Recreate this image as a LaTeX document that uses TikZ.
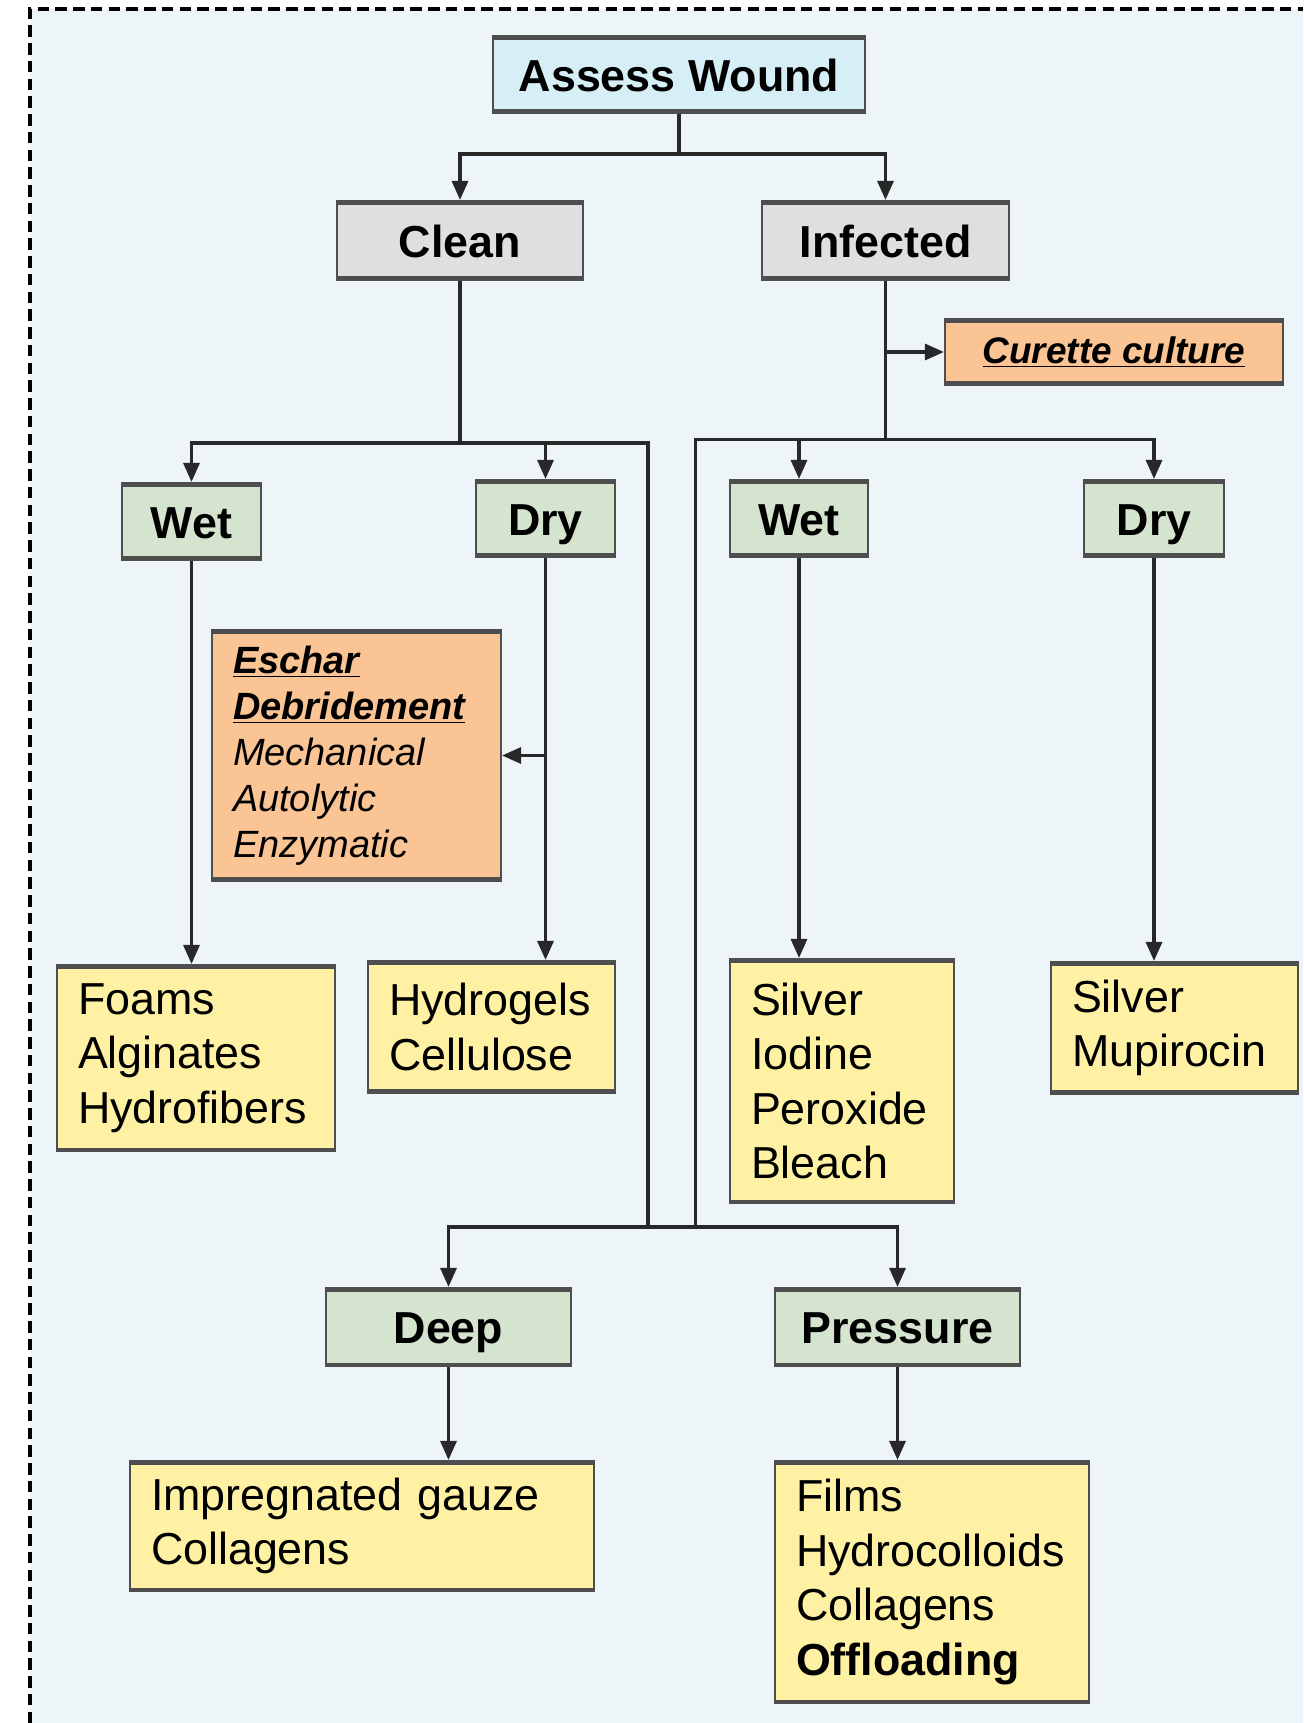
\documentclass[tikz,border=0pt]{standalone}
\usepackage{fontspec}
\setmainfont{Liberation Sans}
\usetikzlibrary{arrows.meta}

\definecolor{paper}{RGB}{238,245,248}
\definecolor{topblue}{RGB}{214,238,246}
\definecolor{greybox}{RGB}{221,223,225}
\definecolor{greenbox}{RGB}{212,228,206}
\definecolor{yellowbox}{RGB}{254,241,163}
\definecolor{orangebox}{RGB}{250,196,148}
\definecolor{boxline}{RGB}{78,78,78}
\definecolor{linecol}{RGB}{40,40,40}

\tikzset{
  box/.style={draw=boxline, line width=1.2pt, inner sep=0pt,
    path picture={
      \draw[boxline, line width=4pt] (path picture bounding box.north west) -- (path picture bounding box.north east);
      \draw[boxline, line width=4pt] (path picture bounding box.south west) -- (path picture bounding box.south east);}},
  hdr/.style={box, font=\bfseries\fontsize{25.5}{30}\selectfont, minimum height=1.56cm,
    text height=21.6pt, text depth=2.4pt},
  lst/.style={box, fill=yellowbox, align=left, inner xsep=0.42cm, font=\fontsize{25.5}{31}\selectfont},
  link/.style={draw=linecol, line width=1.8pt},
  arr/.style={link, -{Triangle[length=0.38cm,width=0.32cm]}}
}

\begin{document}
\begin{tikzpicture}

  \useasboundingbox (0,0) rectangle (26.06,-34.46);
  \fill[paper] (0.6,-0.18) rectangle (26.06,-34.46);
  \draw[black, line width=2.3pt, dash pattern=on 6.5pt off 3.6pt] (0.6,-34.46) -- (0.6,-0.18) -- (26.06,-0.18);

  % top levels
  \node[hdr, fill=topblue, minimum width=7.44cm, minimum height=1.54cm] (assess) at (13.58,-1.49) {Assess Wound};
  \node[hdr, fill=greybox, minimum width=4.92cm, minimum height=1.58cm] (clean) at (9.20,-4.81) {Clean};
  \node[hdr, fill=greybox, minimum width=4.94cm, minimum height=1.58cm] (infected) at (17.71,-4.81) {Infected};
  \node[box, fill=orangebox, minimum width=6.76cm, minimum height=1.32cm,
        font=\bfseries\itshape\fontsize{21}{25}\selectfont] (curette) at (22.28,-7.04) {\underline{Curette culture}};

  % wet / dry
  \node[hdr, fill=greenbox, minimum width=2.78cm, minimum height=1.54cm] (cleanwet) at (3.83,-10.43) {Wet};
  \node[hdr, fill=greenbox, minimum width=2.78cm, minimum height=1.54cm] (cleandry) at (10.91,-10.37) {Dry};
  \node[hdr, fill=greenbox, minimum width=2.76cm, minimum height=1.54cm] (infwet) at (15.98,-10.37) {Wet};
  \node[hdr, fill=greenbox, minimum width=2.80cm, minimum height=1.54cm] (infdry) at (23.08,-10.37) {Dry};

  \node[box, fill=orangebox, align=left, inner xsep=0.42cm, text width=4.94cm, minimum height=5.02cm,
        font=\itshape\fontsize{21.6}{26.2}\selectfont] (eschar) at (7.13,-15.11)
        {\textbf{\underline{Eschar}}\\\textbf{\underline{Debridement}}\\Mechanical\\Autolytic\\Enzymatic};

  % dressings
  \node[lst, text width=4.72cm, minimum height=3.72cm] (foams) at (3.92,-21.16) {Foams\\Alginates\\Hydrofibers};
  \node[lst, text width=4.10cm, minimum height=2.64cm] (hydrogels) at (9.83,-20.54) {Hydrogels\\Cellulose};
  \node[lst, text width=3.64cm, minimum height=4.88cm] (silverlist) at (16.84,-21.62) {Silver\\Iodine\\Peroxide\\Bleach};
  \node[lst, text width=4.10cm, minimum height=2.64cm] (silvermup) at (23.49,-20.56) {Silver\\Mupirocin};

  \node[hdr, fill=greenbox, minimum width=4.90cm] (deep) at (8.97,-26.54) {Deep};
  \node[hdr, fill=greenbox, minimum width=4.90cm] (pressure) at (17.95,-26.54) {Pressure};
  \node[lst, text width=8.44cm, minimum height=2.60cm] (gauze) at (7.24,-30.52) {Impregnated gauze\\Collagens};
  \node[lst, text width=5.44cm, minimum height=4.84cm] (films) at (18.64,-31.64) {Films\\Hydrocolloids\\Collagens\\\textbf{Offloading}};

  % joins
  \coordinate (split) at (13.58,-3.08);
  \coordinate (cj) at (9.20,-8.86);
  \coordinate (ij) at (17.71,-8.79);
  \coordinate (dl) at (12.96,-24.54);
  \coordinate (dr) at (13.91,-24.54);

  \draw[link] (assess) -- (split);
  \draw[arr] (split) -| (clean);
  \draw[arr] (split) -| (infected);

  \draw[link] (clean) -- (cj);
  \draw[arr] (cj) -| (cleanwet);
  \draw[arr] (cj) -| (cleandry);
  \draw[link] (cj) -| (dl);

  \draw[link] (infected) -- (ij);
  \draw[arr] (infected |- curette) -- (curette);
  \draw[arr] (ij) -| (infwet);
  \draw[arr] (ij) -| (infdry);
  \draw[link] (ij) -| (dr);

  \draw[arr] (cleanwet) -- (cleanwet |- foams.north);
  \draw[arr] (cleandry) -- (cleandry |- hydrogels.north);
  \draw[arr] (cleandry |- eschar) -- (eschar);
  \draw[arr] (infwet) -- (infwet |- silverlist.north);
  \draw[arr] (infdry) -- (infdry |- silvermup.north);

  \draw[link] (dl) -- (dr);
  \draw[arr] (dl) -| (deep);
  \draw[arr] (dr) -| (pressure);
  \draw[arr] (deep) -- (deep |- gauze.north);
  \draw[arr] (pressure) -- (pressure |- films.north);

\end{tikzpicture}
\end{document}
